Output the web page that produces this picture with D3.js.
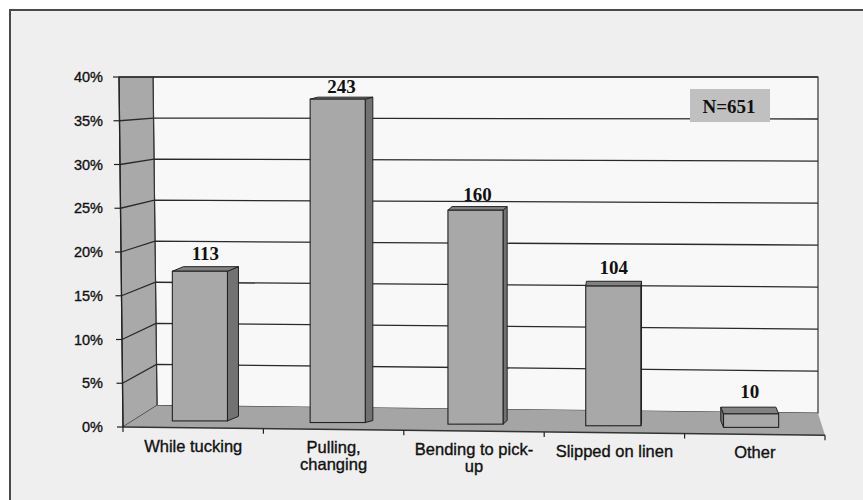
<!DOCTYPE html>
<html>
<head>
<meta charset="utf-8">
<script src="https://cdn.jsdelivr.net/npm/d3@7"></script>
<style>
  html, body { margin: 0; padding: 0; background: #ffffff; }
  svg { display: block; }
</style>
</head>
<body>
<svg id="chart" width="863" height="500"></svg>
<script>
// ---- data ----
const categories = ["While tucking", "Pulling, changing", "Bending to pick-up", "Slipped on linen", "Other"];
const categoryLines = [["While tucking"], ["Pulling,", "changing"], ["Bending to pick-", "up"], ["Slipped on linen"], ["Other"]];
const counts = [113, 243, 160, 104, 10];
const totalN = 651;
const tickValues = [0, 0.05, 0.10, 0.15, 0.20, 0.25, 0.30, 0.35, 0.40];
const tickLabels = ["0%", "5%", "10%", "15%", "20%", "25%", "30%", "35%", "40%"];
const noteText = "N=651";

const percents = counts.map(c => c / totalN);

const svg = d3.select("#chart");

// outer frame
svg.append("rect").attr("x", 10).attr("y", 10).attr("width", 900).attr("height", 600)
  .attr("fill", "#efefef").attr("stroke", "#4a4a4a").attr("stroke-width", 2);

// ---- scales (pseudo-3D) ----
const vMax = 0.4;
const yFront = d3.scaleLinear().domain([0, vMax]).range([427, 77]);
const yMid = d3.scaleLinear().domain([0, vMax]).range([420, 76]);
const yBack = d3.scaleLinear().domain([0, vMax]).range([405, 77]);
const xFront = d3.scaleLinear().domain([0, vMax]).range([123, 119]);
const xBack = d3.scaleLinear().domain([0, vMax]).range([157, 153]);
const xRightBack = 818, xRightFront = 825;
const skew = (x, v) => (x - 121) * 0.0117 * (1 - v / vMax);

const xBand = d3.scaleBand().domain(categories).range([123, xRightFront]);
const xBar = d3.scaleBand().domain(categories).range([131, 820]);

const P = pts => "M" + pts.map(p => p[0].toFixed(2) + "," + p[1].toFixed(2)).join("L") + "Z";
const L = pts => "M" + pts.map(p => p[0].toFixed(2) + "," + p[1].toFixed(2)).join("L");

// back wall
svg.append("path")
  .attr("d", P([
    [xBack(vMax), yBack(vMax)],
    [xRightBack, yBack(vMax) + skew(xRightBack, vMax)],
    [xRightBack, yBack(0) + skew(xRightBack, 0)],
    [xBack(0), yBack(0) + skew(xBack(0), 0)]
  ]))
  .attr("fill", "#f8f8f8").attr("stroke", "#333").attr("stroke-width", 1.2);

// side wall
svg.append("path")
  .attr("d", P([
    [xFront(vMax), yFront(vMax)],
    [xBack(vMax), yBack(vMax)],
    [xBack(0), yBack(0) + skew(xBack(0), 0)],
    [xFront(0), yFront(0)]
  ]))
  .attr("fill", "#a9a9a9").attr("stroke", "#333").attr("stroke-width", 1.2);

// floor
svg.append("path")
  .attr("d", P([
    [xFront(0), yFront(0)],
    [xBack(0), yBack(0) + skew(xBack(0), 0)],
    [xRightBack, yBack(0) + skew(xRightBack, 0)],
    [xRightFront, yFront(0) + skew(xRightFront, 0)]
  ]))
  .attr("fill", "#a5a5a5").attr("stroke", "none");

// gridlines
svg.append("g").selectAll("path")
  .data(tickValues.filter(v => v > 0))
  .join("path")
  .attr("d", v => L([
    [xFront(v), yFront(v)],
    [xBack(v), yBack(v) + skew(xBack(v), v)],
    [xRightBack, yBack(v) + skew(xRightBack, v)]
  ]))
  .attr("fill", "none").attr("stroke", "#2a2a2a").attr("stroke-width", 1.3);

// bars
const step = xBar.step();
const barW = step * 0.4;
const bars = svg.append("g");
categories.forEach((c, i) => {
  const v = percents[i];
  const cx = xBar(c) + step / 2;
  const x0 = cx - barW / 2, x1 = cx + barW / 2;
  const yT = yMid(v) + skew(cx, v);
  const yB = yMid(0) + skew(cx, 0);
  const dx = (640 - cx) * 0.025;
  const dy = 2 + (yT - 100) * 0.015;
  const g = bars.append("g");
  // side face
  const sx = dx >= 0 ? x1 : x0;
  g.append("path")
    .attr("d", P([[sx, yT], [sx + dx, yT - dy], [sx + dx, yB - dy], [sx, yB]]))
    .attr("fill", "#727272").attr("stroke", "#222").attr("stroke-width", 1);
  // top face
  g.append("path")
    .attr("d", P([[x0, yT], [x1, yT], [x1 + dx, yT - dy], [x0 + dx, yT - dy]]))
    .attr("fill", "#828282").attr("stroke", "#222").attr("stroke-width", 1);
  // front face
  g.append("rect")
    .attr("x", x0).attr("y", yT).attr("width", barW).attr("height", yB - yT)
    .attr("fill", "#a8a8a8").attr("stroke", "#222").attr("stroke-width", 1.1);
  // value label
  g.append("text")
    .attr("x", cx + dx / 2).attr("y", yT - 2 * dy - 2)
    .attr("text-anchor", "middle")
    .attr("font-family", "'Liberation Serif', 'Times New Roman', serif")
    .attr("font-weight", "bold").attr("font-size", 19).attr("fill", "#111")
    .text(counts[i]);
});

// y axis
svg.append("path")
  .attr("d", L([[xFront(0), yFront(0)], [xFront(vMax), yFront(vMax)]]))
  .attr("stroke", "#222").attr("stroke-width", 1.3).attr("fill", "none");
const yAx = svg.append("g");
tickValues.forEach((v, i) => {
  yAx.append("line")
    .attr("x1", xFront(v) - 6).attr("x2", xFront(v))
    .attr("y1", yFront(v)).attr("y2", yFront(v))
    .attr("stroke", "#222").attr("stroke-width", 1.2);
  yAx.append("text")
    .attr("x", 103).attr("y", yFront(v)).attr("dy", "0.35em")
    .attr("text-anchor", "end")
    .attr("font-family", "'Liberation Sans', Arial, sans-serif")
    .attr("font-size", 14.5).attr("fill", "#111")
    .attr("stroke", "#111").attr("stroke-width", 0.35)
    .text(tickLabels[i]);
});

// x axis (floor front edge)
svg.append("path")
  .attr("d", L([[xFront(0), yFront(0)], [xRightFront, yFront(0) + skew(xRightFront, 0)]]))
  .attr("stroke", "#333").attr("stroke-width", 1.4).attr("fill", "none");
const boundaries = categories.map(c => xBand(c)).concat([xBand.range()[1]]);
svg.append("g").selectAll("line")
  .data(boundaries)
  .join("line")
  .attr("x1", d => d).attr("x2", d => d)
  .attr("y1", d => yFront(0) + skew(d, 0))
  .attr("y2", d => yFront(0) + skew(d, 0) + 5)
  .attr("stroke", "#222").attr("stroke-width", 1.2);

const xl = svg.append("g");
categories.forEach((c, i) => {
  const cx = xBand(c) + xBand.bandwidth() / 2;
  const base = yFront(0) + skew(cx, 0) + 24;
  const t = xl.append("text")
    .attr("text-anchor", "middle")
    .attr("font-family", "'Liberation Sans', Arial, sans-serif")
    .attr("font-size", 16.5).attr("fill", "#111")
    .attr("stroke", "#111").attr("stroke-width", 0.35);
  categoryLines[i].forEach((ln, j) => {
    t.append("tspan").attr("x", cx).attr("y", base + j * 17).text(ln);
  });
});

// N note
svg.append("rect").attr("x", 690).attr("y", 89).attr("width", 80).attr("height", 33)
  .attr("fill", "#c0c0c0");
svg.append("text").attr("x", 729).attr("y", 106).attr("dy", "0.35em")
  .attr("text-anchor", "middle")
  .attr("font-family", "'Liberation Serif', 'Times New Roman', serif")
  .attr("font-weight", "bold").attr("font-size", 19).attr("fill", "#111")
  .text(noteText);
</script>
</body>
</html>
